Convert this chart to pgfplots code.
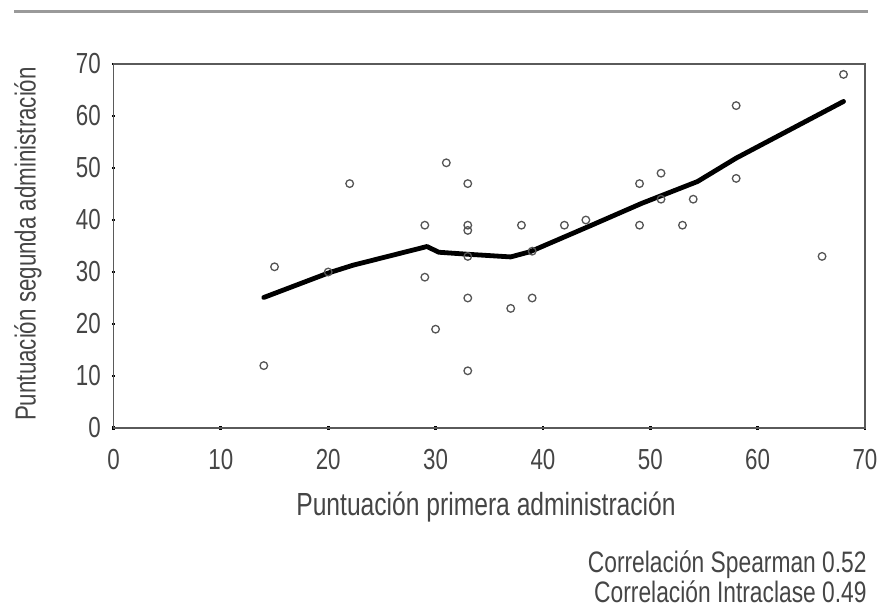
\documentclass[border=0pt]{standalone}
\usepackage{fontspec}
\setmainfont{Liberation Sans}[FakeStretch=0.77]
\usepackage{pgfplots}
\pgfplotsset{compat=1.18}
\definecolor{txt}{HTML}{454545}
\definecolor{axl}{HTML}{5A5A5A}
\definecolor{mk}{HTML}{555555}
\definecolor{rule}{HTML}{9A9A9A}
\begin{document}
\begin{tikzpicture}
\useasboundingbox (0,0) rectangle (439pt,303pt);
\draw[rule, line width=1.5pt] (7pt,297pt) -- (434pt,297pt);
\begin{axis}[
  at={(56.75pt,89pt)}, anchor=south west,
  scale only axis, width=375.75pt, height=182pt,
  xmin=0, xmax=70, ymin=0, ymax=70,
  xtick={0,10,...,70}, ytick={0,10,...,70},
  xtick pos=left, ytick pos=left,
  axis line style={axl, line width=0.7pt},
  tick align=center, major tick length=1.6pt,
  tick style={black, line width=1.4pt},
  /pgf/number format/assume math mode=true,
  ticklabel style={font=\fontsize{14.5}{14.5}\selectfont, text=txt},
  yticklabel style={xshift=-2pt},
  xticklabel style={yshift=-6.5pt},
  clip=false,
]
\addplot[only marks, mark=o, mark size=1.9pt, mark options={draw=mk, line width=0.65pt}] coordinates {
(14,12) (15,31) (20,30) (22,47) (29,39) (29,29) (30,19) (31,51) (33,47) (33,39)
(33,38) (33,33) (33,25) (33,11) (37,23) (38,39) (39,34) (39,25) (42,39) (44,40)
(49,47) (49,39) (51,49) (51,44) (53,39) (54,44) (58,62) (58,48) (66,33) (68,68)
};
\addplot[black, line width=2.4pt, line join=round, line cap=round] coordinates {
(14,25.1) (20,29.8) (22.3,31.3) (29.2,34.9) (30.3,33.8) (33.1,33.4) (37,32.9)
(38.8,33.9) (44.2,38.7) (49.2,43.2) (54.4,47.4) (58,51.9) (68,62.8)
};
\end{axis}
\node[text=txt, font=\fontsize{16}{16}\selectfont, anchor=base] at (243pt,45.5pt) {Puntuación primera administración};
\node[text=txt, font=\fontsize{14.5}{14.5}\selectfont, rotate=90, anchor=center] at (14pt,181pt) {Puntuación segunda administración};
\node[text=txt, font=\fontsize{14.8}{14.8}\selectfont, anchor=base east, inner sep=0pt] at (433.5pt,17pt) {Correlación Spearman 0.52};
\node[text=txt, font=\fontsize{14.8}{14.8}\selectfont, anchor=base east, inner sep=0pt] at (433.5pt,1.8pt) {Correlación Intraclase 0.49};
\end{tikzpicture}
\end{document}
